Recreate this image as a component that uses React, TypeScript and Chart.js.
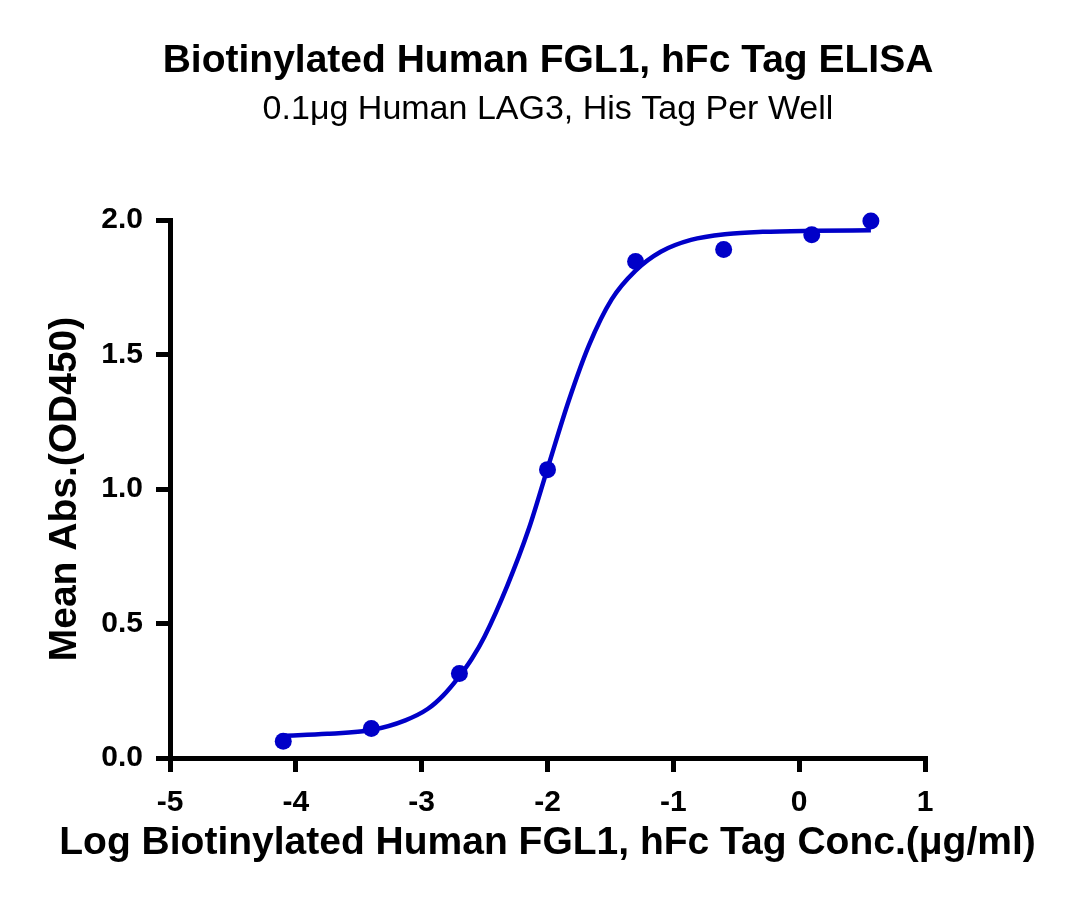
import React, { useEffect, useRef } from "react";
import { Chart, registerables } from "chart.js";

Chart.register(...registerables);

const TITLE = "Biotinylated Human FGL1, hFc Tag ELISA";
const SUBTITLE = "0.1μg Human LAG3, His Tag Per Well";
const X_TITLE = "Log Biotinylated Human FGL1, hFc Tag Conc.(μg/ml)";
const Y_TITLE = "Mean Abs.(OD450)";

// Measured points (log concentration, mean absorbance)
const pointX = [-4.1, -3.4, -2.7, -2.0, -1.3, -0.6, 0.1, 0.57];
const pointY = [0.062, 0.11, 0.314, 1.072, 1.846, 1.89, 1.945, 1.996];

// Fitted curve
const curveX = [-4.1, -3.75, -3.4, -3.13, -2.95, -2.83, -2.71, -2.6, -2.5, -2.32, -2.15, -2.0, -1.83, -1.67, -1.49, -1.3, -1.1, -0.86, -0.57, -0.29, 0.12, 0.57];
const curveY = [0.082, 0.09, 0.104, 0.14, 0.183, 0.232, 0.298, 0.37, 0.452, 0.64, 0.85, 1.076, 1.33, 1.535, 1.705, 1.812, 1.882, 1.926, 1.948, 1.956, 1.96, 1.962];

const X_MIN = -5;
const X_MAX = 1;
const Y_MIN = 0;
const Y_MAX = 2;

const BLUE = "#0000C8";
const FONT = "'Liberation Sans', Arial, Helvetica, sans-serif";
const AXIS_TITLE_SIZE = 39;
const X_TITLE_BOTTOM_PAD = 41.6;

const xTitlePlugin = {
  id: "xTitleWide",
  afterDraw(chart: any) {
    const xs = chart.scales.x;
    if (!xs) return;
    const ctx = chart.ctx;
    ctx.save();
    ctx.font = `bold ${AXIS_TITLE_SIZE}px ${FONT}`;
    ctx.fillStyle = "#000";
    ctx.textAlign = "center";
    ctx.textBaseline = "middle";
    const cx = (xs.left + xs.right) / 2;
    const cy = xs.bottom - X_TITLE_BOTTOM_PAD - (AXIS_TITLE_SIZE * 1.2) / 2;
    ctx.fillText(X_TITLE, cx, cy);
    ctx.restore();
  },
};

export default function App() {
  const ref = useRef<HTMLCanvasElement | null>(null);

  useEffect(() => {
    document.body.style.margin = "0";
    const canvas = ref.current;
    if (!canvas) return;
    const chart = new Chart(canvas, {
      type: "scatter",
      plugins: [xTitlePlugin],
      data: {
        datasets: [
          {
            label: "points",
            data: pointX.map((x, i) => ({ x, y: pointY[i] })),
            backgroundColor: BLUE,
            borderColor: BLUE,
            pointRadius: 8.5,
            pointBorderWidth: 0,
            showLine: false,
            clip: false as any,
          },
          {
            label: "fit",
            data: curveX.map((x, i) => ({ x, y: curveY[i] })),
            borderColor: BLUE,
            backgroundColor: BLUE,
            borderWidth: 4.5,
            pointRadius: 0,
            showLine: true,
            cubicInterpolationMode: "monotone",
            clip: false as any,
          },
        ],
      },
      options: {
        responsive: false,
        animation: false,
        devicePixelRatio: 1,
        layout: { padding: { left: 16, right: 0, top: 0, bottom: 0 } },
        plugins: {
          legend: { display: false },
          tooltip: { enabled: false },
          title: {
            display: true,
            text: TITLE,
            color: "#000",
            font: { family: FONT, size: 39, weight: "bold", lineHeight: 1.2 },
            padding: { top: 37.6, bottom: 0 },
          },
          subtitle: {
            display: true,
            text: SUBTITLE,
            color: "#000",
            font: { family: FONT, size: 34, weight: "normal", lineHeight: 1.2 },
            padding: { top: 5.2, bottom: 89.6 },
          },
        },
        scales: {
          x: {
            type: "linear",
            position: "bottom",
            min: X_MIN,
            max: X_MAX,
            afterFit: (s: any) => {
              s.height = 150;
            },
            ticks: {
              stepSize: 1,
              color: "#000",
              padding: 13,
              font: { family: FONT, size: 30, weight: "bold", lineHeight: 1.2 },
            },
            grid: {
              display: true,
              drawOnChartArea: false,
              drawTicks: true,
              tickLength: 14,
              lineWidth: 5,
              color: "#000",
            },
            border: { display: true, color: "#000", width: 5 },
            title: { display: false },
          },
          y: {
            type: "linear",
            position: "left",
            min: Y_MIN,
            max: Y_MAX,
            afterFit: (s: any) => {
              s.width = 154;
            },
            ticks: {
              stepSize: 0.5,
              color: "#000",
              padding: 13,
              font: { family: FONT, size: 30, weight: "bold", lineHeight: 1.2 },
              callback: (v: any) => Number(v).toFixed(1),
            },
            grid: {
              display: true,
              drawOnChartArea: false,
              drawTicks: true,
              tickLength: 14,
              lineWidth: 5,
              color: "#000",
            },
            border: { display: true, color: "#000", width: 5 },
            title: {
              display: true,
              text: Y_TITLE,
              color: "#000",
              font: { family: FONT, size: AXIS_TITLE_SIZE, weight: "bold", lineHeight: 1.2 },
              padding: { top: 25.6, bottom: 0 },
            },
          },
          yRight: {
            type: "linear",
            position: "right",
            display: true,
            afterFit: (s: any) => {
              s.width = 155;
            },
            ticks: { display: false },
            grid: { display: false },
            border: { display: false },
          },
        },
      },
    } as any);
    return () => chart.destroy();
  }, []);

  return (
    <div style={{ width: 1080, height: 908, background: "#fff" }}>
      <canvas ref={ref} width={1080} height={908} style={{ display: "block" }} />
    </div>
  );
}
